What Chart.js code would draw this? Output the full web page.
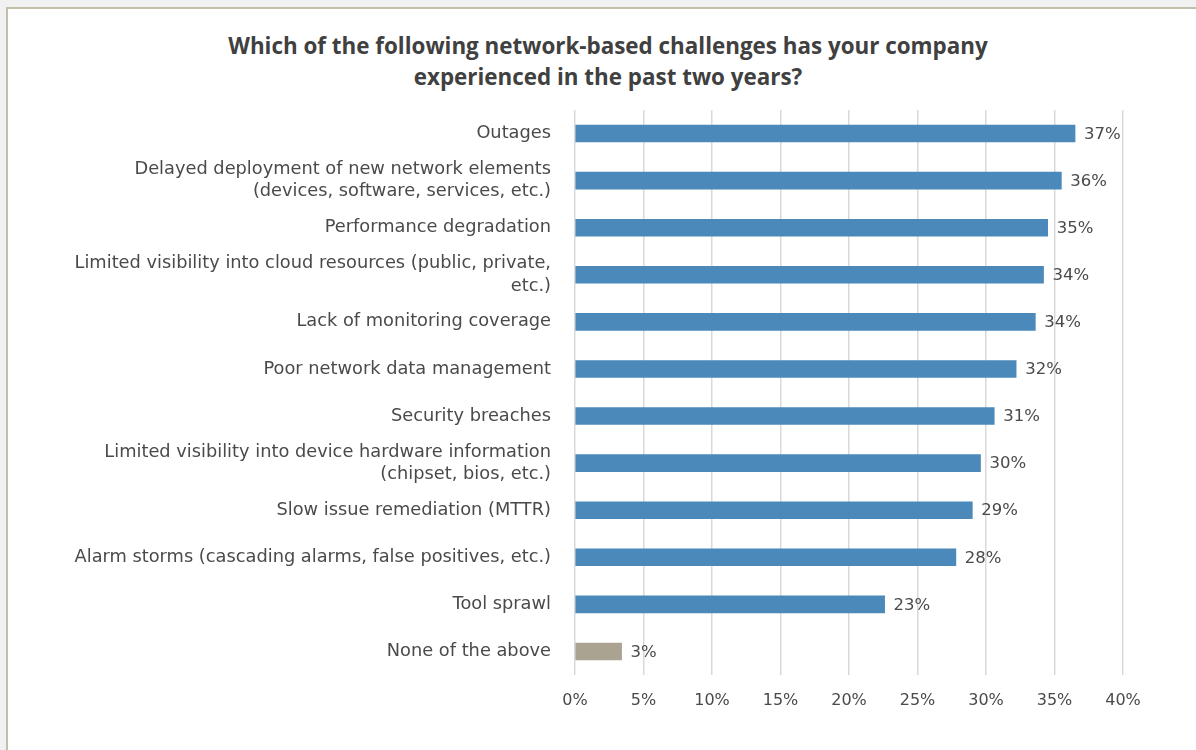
<!DOCTYPE html>
<html>
<head>
<meta charset="utf-8">
<script src="https://cdn.jsdelivr.net/npm/chart.js@4.4.0/dist/chart.umd.min.js"></script>
<style>
  html, body { margin: 0; padding: 0; background: #f1f1f1; width: 1196px; height: 750px; overflow: hidden; }
  #frame { position: absolute; left: 6px; top: 7px; width: 1200px; height: 760px; background: #ffffff; border-left: 2px solid #c2bea9; border-top: 2px solid #c2bea9; }
  #title { position: absolute; left: 0; width: 1216px; top: 30px; text-align: center; font-family: "Open Sans", sans-serif; font-weight: bold; font-size: 22.4px; line-height: 31px; color: #404040; }
  #c { position: absolute; left: 0; top: 0; }
</style>
</head>
<body>
<div id="frame"></div>
<div id="title">Which of the following network-based challenges has your company<br>experienced in the past two years?</div>
<canvas id="c" width="1196" height="750"></canvas>
<script>
const categories = [
  ["Outages"],
  ["Delayed deployment of new network elements", "(devices, software, services, etc.)"],
  ["Performance degradation"],
  ["Limited visibility into cloud resources (public, private,", "etc.)"],
  ["Lack of monitoring coverage"],
  ["Poor network data management"],
  ["Security breaches"],
  ["Limited visibility into device hardware information", "(chipset, bios, etc.)"],
  ["Slow issue remediation (MTTR)"],
  ["Alarm storms (cascading alarms, false positives, etc.)"],
  ["Tool sprawl"],
  ["None of the above"]
];
const values = [36.5, 35.5, 34.5, 34.2, 33.6, 32.2, 30.6, 29.6, 29.0, 27.8, 22.6, 3.4];
const valueLabels = ["37%", "36%", "35%", "34%", "34%", "32%", "31%", "30%", "29%", "28%", "23%", "3%"];
const barColors = ["#4a89b9", "#4a89b9", "#4a89b9", "#4a89b9", "#4a89b9", "#4a89b9", "#4a89b9", "#4a89b9", "#4a89b9", "#4a89b9", "#4a89b9", "#aaa392"];
const xTicks = [0, 5, 10, 15, 20, 25, 30, 35, 40];

const FONT = '"DejaVu Sans", sans-serif';
const TEXT = '#4a4a4a';

const valueLabelPlugin = {
  id: 'valueLabels',
  afterDatasetsDraw(chart) {
    const ctx = chart.ctx;
    const meta = chart.getDatasetMeta(0);
    ctx.save();
    ctx.font = '16.5px ' + FONT;
    ctx.fillStyle = TEXT;
    ctx.textAlign = 'left';
    ctx.textBaseline = 'middle';
    meta.data.forEach((bar, i) => {
      ctx.fillText(valueLabels[i], bar.x + 9, bar.y + 1);
    });
    ctx.restore();
  }
};

new Chart(document.getElementById('c'), {
  type: 'bar',
  data: {
    labels: categories,
    datasets: [{
      data: values,
      backgroundColor: barColors,
      borderWidth: 0,
      barThickness: 17
    }]
  },
  options: {
    indexAxis: 'y',
    responsive: false,
    animation: false,
    devicePixelRatio: 1,
    layout: { padding: { top: 110, left: 10, right: 73, bottom: 40 } },
    plugins: { legend: { display: false }, tooltip: { enabled: false }, title: { display: false } },
    scales: {
      x: {
        min: 0, max: 40,
        afterBuildTicks(scale) { scale.ticks = xTicks.map(v => ({ value: v })); },
        afterFit(scale) { scale.height = 35; },
        grid: { color: '#d9d9d9', lineWidth: 1.5, drawTicks: false },
        border: { display: false },
        ticks: { padding: 16, color: TEXT, font: { family: FONT, size: 16 }, callback: v => v + '%' }
      },
      y: {
        afterFit(scale) { scale.width = 565; },
        grid: { display: false, drawTicks: false },
        border: { display: false },
        ticks: { autoSkip: false, padding: 24, color: TEXT, font: { family: FONT, size: 17.8, lineHeight: 1.25 } }
      }
    }
  },
  plugins: [valueLabelPlugin]
});
</script>
</body>
</html>
